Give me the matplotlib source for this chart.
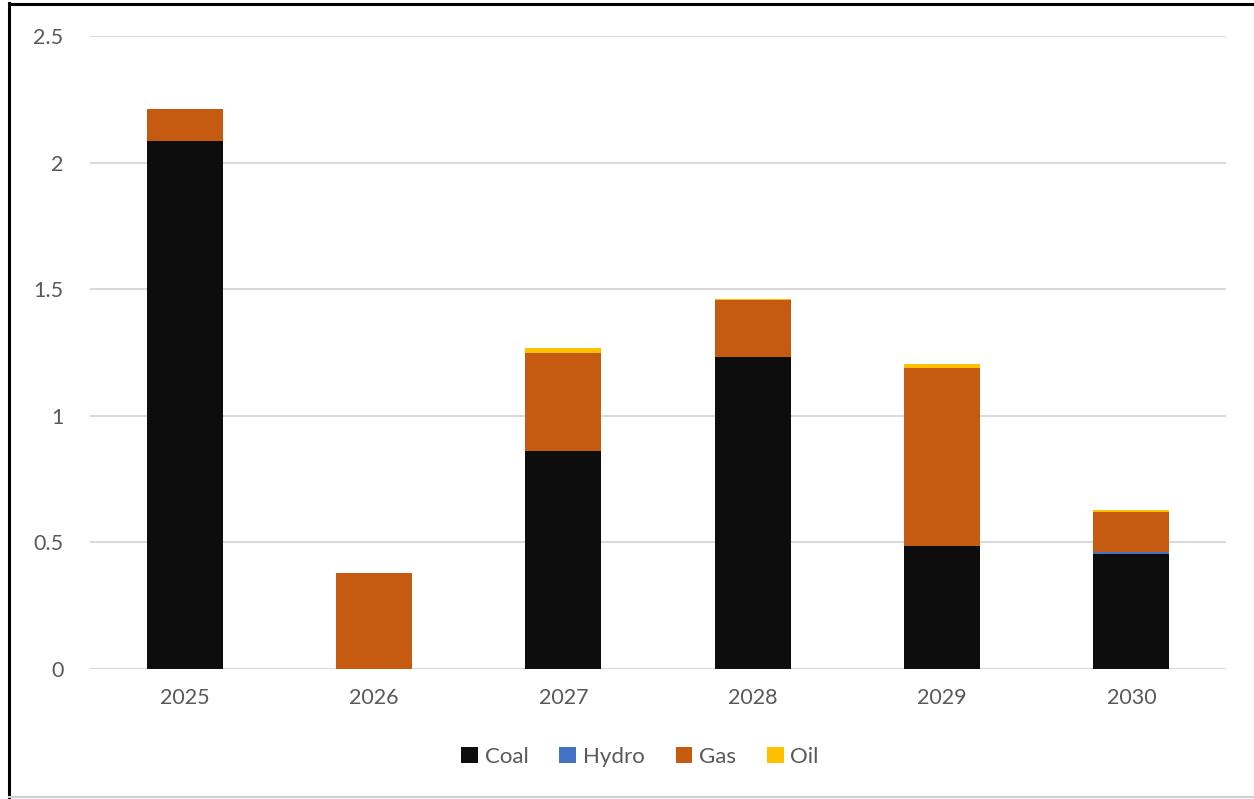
import matplotlib
matplotlib.use("Agg")
import matplotlib.pyplot as plt
from matplotlib.lines import Line2D
import numpy as np

years = ["2025", "2026", "2027", "2028", "2029", "2030"]
coal = [2.085, 0.0, 0.861, 1.232, 0.486, 0.455]
hydro = [0.0, 0.0, 0.0, 0.0, 0.0, 0.008]
gas = [0.127, 0.379, 0.387, 0.225, 0.703, 0.158]
oil = [0.0, 0.0, 0.02, 0.005, 0.015, 0.005]

series = [("Coal", coal, "#0d0d0d"), ("Hydro", hydro, "#4472c4"),
          ("Gas", gas, "#c55a11"), ("Oil", oil, "#ffc000")]

plt.rcParams['font.family'] = ['Lato', 'DejaVu Sans']

fig = plt.figure(figsize=(12.54, 7.99), dpi=100)
ax = fig.add_axes([90/1254, 1-669/799, (1226-90)/1254, (669-36)/799])

x = np.arange(len(years))
bottom = np.zeros(len(years))
for name, vals, col in series:
    v = np.array(vals)
    ax.bar(x, v, 0.4, bottom=bottom, color=col, label=name, zorder=3)
    bottom += v

ax.set_xlim(-0.5, len(years) - 0.5)
ax.set_ylim(0, 2.5)
ax.set_yticks([0, 0.5, 1, 1.5, 2, 2.5])
ax.set_yticklabels(["0", "0.5", "1", "1.5", "2", "2.5"])
ax.set_xticks(x)
ax.set_xticklabels(years)
ax.grid(axis='y', color='#d9d9d9', linewidth=1.5, zorder=0)
for s in ax.spines.values():
    s.set_visible(False)
ax.tick_params(axis='both', length=0, labelsize=15.5, colors='#595959')
ax.tick_params(axis='y', pad=19)
ax.tick_params(axis='x', pad=14)

leg = ax.legend(loc='center', bbox_to_anchor=(550/1136, (669-757)/633), ncol=4,
                frameon=False, fontsize=16, handlelength=0.75, handleheight=0.75,
                handletextpad=0.3, columnspacing=1.4)
for t in leg.get_texts():
    t.set_color('#595959')

# outer frame fragments
fig.add_artist(Line2D([9/1254, 9/1254], [0, 1 - 3/799], color='black', linewidth=2.2))
fig.add_artist(Line2D([9/1254, 1], [1 - 4/799, 1 - 4/799], color='black', linewidth=2.2))
fig.add_artist(Line2D([9/1254, 1], [1 - 797/799, 1 - 797/799], color='#d0d0d0', linewidth=1.5))

fig.savefig("out.png", dpi=100, facecolor='white')
